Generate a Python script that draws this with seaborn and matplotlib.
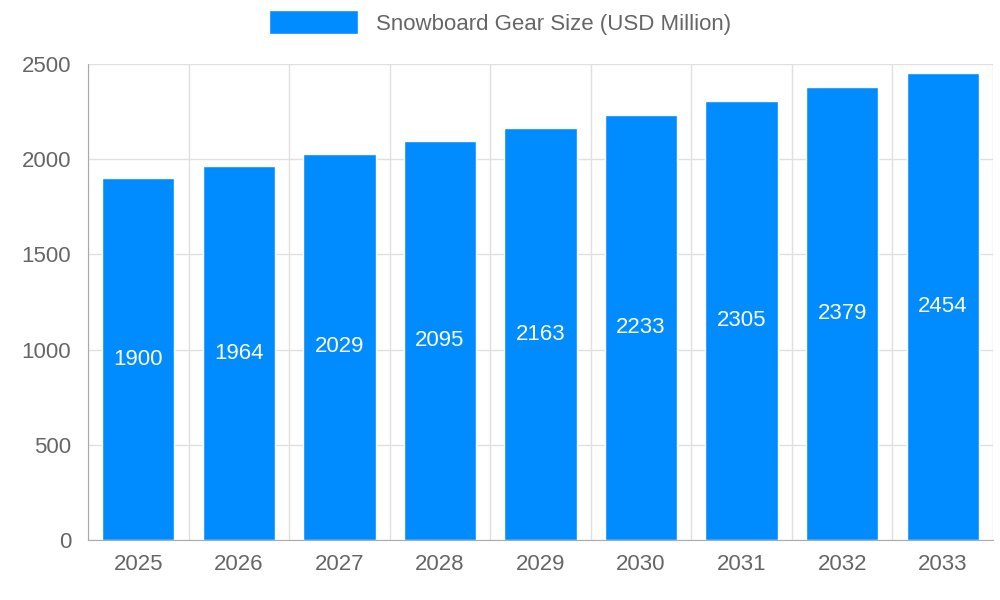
import matplotlib
matplotlib.use("Agg")
import matplotlib.pyplot as plt
import seaborn as sns
import pandas as pd
import numpy as np

years = ["2025","2026","2027","2028","2029","2030","2031","2032","2033"]
values = [1900,1964,2029,2095,2163,2233,2305,2379,2454]
series_name = "Snowboard Gear Size (USD Million)"

sns.set_style("white")
plt.rcParams['font.family'] = ['Liberation Sans', 'DejaVu Sans']
df = pd.DataFrame({"year": years, "value": values})

fig = plt.figure(figsize=(10, 6), dpi=100)
ax = fig.add_axes([0.088, 0.1, 0.905, 0.7933])
color = "#008cff"
sns.barplot(data=df, x="year", y="value", color=color, width=0.72, ax=ax,
            saturation=1, label=series_name, zorder=2)
ax.set_xlim(-0.5, len(years) - 0.5)
ax.set_ylim(0, 2500)
ax.set_yticks(np.arange(0, 2501, 500))
ax.set_xticks(np.arange(-0.5, len(years), 1), minor=True)
ax.grid(True, axis="y", color="#e0e0e0", lw=1, zorder=0)
ax.grid(True, axis="x", which="minor", color="#e0e0e0", lw=1, zorder=0)
ax.tick_params(axis="x", which="major", length=0, pad=10, labelsize=16, labelcolor="#666666")
ax.tick_params(axis="x", which="minor", length=18, color="#cccccc", width=1)
ax.tick_params(axis="y", length=8, color="#e0e0e0", labelsize=16, labelcolor="#666666", pad=4)
ax.set_xlabel("")
ax.set_ylabel("")
for s in ["top", "right"]:
    ax.spines[s].set_visible(False)
for s in ["left", "bottom"]:
    ax.spines[s].set_color("#aaaaaa")
for i, v in enumerate(values):
    ax.text(i, v / 2, str(v), ha="center", va="center", color="white", fontsize=16, zorder=3)
leg = ax.legend(loc="lower center", bbox_to_anchor=(0.455, 1.02), frameon=False,
                fontsize=16, handlelength=4, handleheight=1.3, labelcolor="#666666")
fig.savefig("out.png", dpi=100)
